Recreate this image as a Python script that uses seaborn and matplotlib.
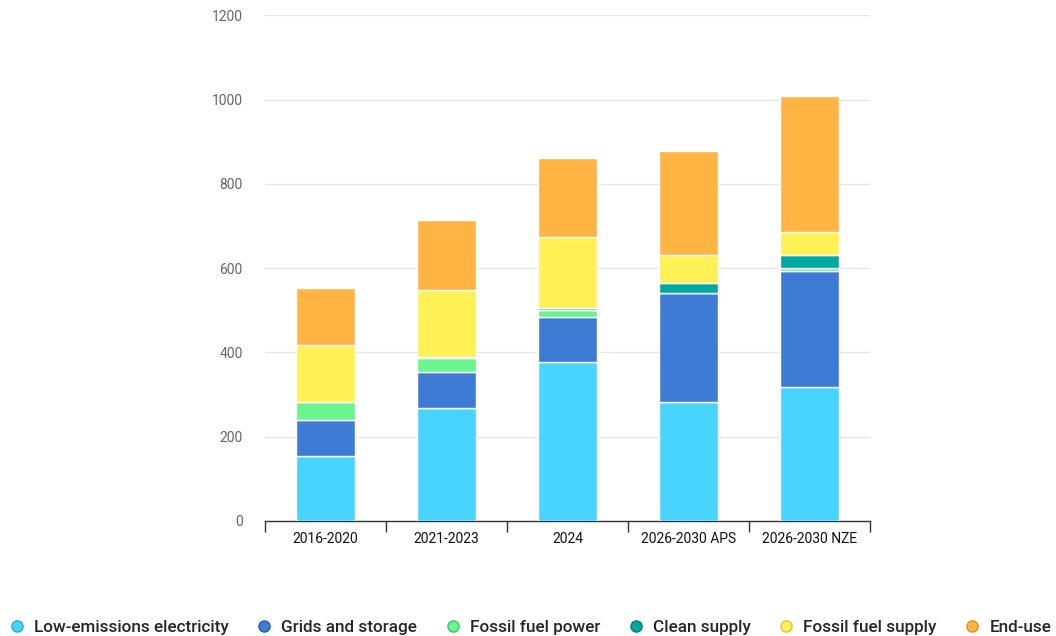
import matplotlib
matplotlib.use("Agg")
import matplotlib.pyplot as plt
from matplotlib.lines import Line2D
import numpy as np
import pandas as pd
import seaborn as sns

# Investment by category and period
periods = ["2016-2020", "2021-2023", "2024", "2026-2030 APS", "2026-2030 NZE"]
low_emissions_electricity = [154, 267, 376, 281, 318]
grids_and_storage = [86, 87, 107, 259, 275]
fossil_fuel_power = [41, 33, 17, 2, 6]
clean_supply = [2, 2, 6, 22, 32]
fossil_fuel_supply = [135, 159, 168, 66, 55]
end_use = [134, 165, 188, 249, 323]

series_names = ["Low-emissions electricity", "Grids and storage", "Fossil fuel power",
                "Clean supply", "Fossil fuel supply", "End-use"]
series_values = [low_emissions_electricity, grids_and_storage, fossil_fuel_power,
                 clean_supply, fossil_fuel_supply, end_use]
colors = ["#49D3FF", "#3E7BD4", "#6BF58F", "#00A99D", "#FFF156", "#FFB444"]
edge_colors = ["#2AA8D0", "#2A5AA8", "#3CC468", "#007F76", "#D8C530", "#D98E22"]

sns.set_theme(style="white")
plt.rcParams["font.family"] = ["Roboto", "DejaVu Sans"]

fig = plt.figure(figsize=(10.56, 6.36), dpi=100)
ax = fig.add_axes([0.251, 0.181, 0.573, 0.795])

bottom = np.zeros(len(periods))
for name, vals, col in zip(series_names, series_values, colors):
    df = pd.DataFrame({"period": periods, "value": vals})
    sns.barplot(data=df, x="period", y="value", color=col, bottom=bottom,
                width=0.49, edgecolor="white", linewidth=1.0, saturation=1,
                errorbar=None, ax=ax, zorder=3)
    bottom = bottom + np.array(vals)

ax.set_xlim(-0.5, len(periods) - 0.5)
ax.set_ylim(0, 1200)
ax.set_yticks(np.arange(0, 1201, 200))
ax.set_xlabel("")
ax.set_ylabel("")

ax.yaxis.grid(True, color="#E6E6E6", linewidth=1.0, zorder=0)
ax.xaxis.grid(False)
for side in ["left", "right", "top"]:
    ax.spines[side].set_visible(False)
ax.spines["bottom"].set_color("#333333")
ax.spines["bottom"].set_linewidth(1.0)

ax.tick_params(axis="y", length=0, pad=16, labelsize=10, labelcolor="#666666")
ax.tick_params(axis="x", which="major", length=0, pad=8, labelsize=10, labelcolor="#111111")

# Category boundary ticks below the axis line
ax.set_xticks(np.arange(-0.5, len(periods), 1.0), minor=True)
ax.tick_params(axis="x", which="minor", bottom=True, length=8, width=1.0,
               color="#333333", direction="out")

handles = [Line2D([0], [0], marker="o", linestyle="", markersize=8,
                  markerfacecolor=c, markeredgecolor=e, markeredgewidth=1.0)
           for c, e in zip(colors, edge_colors)]
fig.legend(handles, series_names, loc="center left", bbox_to_anchor=(0.008, 0.014),
           borderaxespad=0.0, borderpad=0.0,
           ncol=6, frameon=False, handletextpad=0.5, columnspacing=1.58,
           handlelength=1.0,
           prop={"family": ["Roboto", "DejaVu Sans"], "weight": "medium", "size": 12.3})

fig.savefig("out.png", dpi=100)
